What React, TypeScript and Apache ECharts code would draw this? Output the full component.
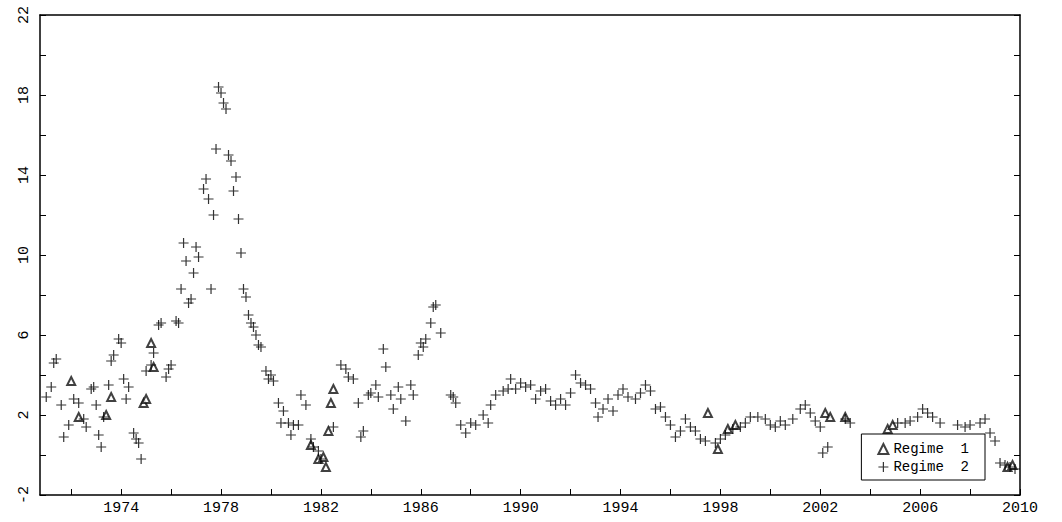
import { useEffect, useRef } from 'react';
import * as echarts from 'echarts';

const regime1: [number, number][] = [
  [1972.0, 3.7], [1972.3, 1.9], [1973.4, 2.0], [1973.6, 2.9], [1974.9, 2.6], [1975.0, 2.8],
  [1975.2, 5.6], [1975.3, 4.4], [1981.6, 0.5], [1981.9, -0.2], [1982.1, -0.1], [1982.2, -0.6],
  [1982.3, 1.2], [1982.4, 2.6], [1982.5, 3.3], [1997.5, 2.1], [1997.9, 0.3], [1998.3, 1.3],
  [1998.6, 1.5], [2002.2, 2.1], [2002.4, 1.9], [2003.0, 1.9], [2004.7, 1.3], [2004.9, 1.5],
  [2009.5, -0.6], [2009.7, -0.5],
];

const regime2: [number, number][] = [
  [1971.0, 2.9], [1971.2, 3.4], [1971.3, 4.6], [1971.4, 4.8], [1971.6, 2.5], [1971.7, 0.9],
  [1971.9, 1.5], [1972.1, 2.8], [1972.3, 2.6], [1972.5, 1.8], [1972.6, 1.4], [1972.8, 3.3],
  [1972.9, 3.4], [1973.0, 2.5], [1973.1, 1.0], [1973.2, 0.4], [1973.3, 1.9], [1973.5, 3.5],
  [1973.6, 4.7], [1973.7, 5.0], [1973.9, 5.8], [1974.0, 5.6], [1974.1, 3.8], [1974.2, 2.8],
  [1974.3, 3.4], [1974.5, 1.1], [1974.6, 0.8], [1974.7, 0.6], [1974.8, -0.2], [1975.0, 4.2],
  [1975.2, 4.5], [1975.3, 5.1], [1975.5, 6.5], [1975.6, 6.6], [1975.8, 3.9], [1975.9, 4.3],
  [1976.0, 4.5], [1976.2, 6.7], [1976.3, 6.6], [1976.4, 8.3], [1976.5, 10.6], [1976.6, 9.7],
  [1976.7, 7.6], [1976.8, 7.8], [1976.9, 9.1], [1977.0, 10.4], [1977.1, 9.9], [1977.3, 13.3],
  [1977.4, 13.8], [1977.5, 12.8], [1977.6, 8.3], [1977.7, 12.0], [1977.8, 15.3], [1977.9, 18.4],
  [1978.0, 18.1], [1978.1, 17.6], [1978.2, 17.3], [1978.3, 15.0], [1978.4, 14.7], [1978.5, 13.2],
  [1978.6, 13.9], [1978.7, 11.8], [1978.8, 10.1], [1978.9, 8.3], [1979.0, 7.9], [1979.1, 7.0],
  [1979.2, 6.6], [1979.3, 6.4], [1979.4, 6.0], [1979.5, 5.5], [1979.6, 5.4], [1979.8, 4.2],
  [1979.9, 3.8], [1980.0, 4.0], [1980.1, 3.7], [1980.3, 2.6], [1980.4, 1.6], [1980.5, 2.2],
  [1980.7, 1.6], [1980.8, 1.0], [1980.9, 1.5], [1981.1, 1.5], [1981.2, 3.0], [1981.4, 2.5],
  [1981.6, 0.8], [1981.7, 0.4], [1981.9, 0.2], [1982.0, -0.2], [1982.5, 1.4], [1982.8, 4.5],
  [1983.0, 4.3], [1983.1, 3.9], [1983.3, 3.8], [1983.5, 2.6], [1983.6, 0.9], [1983.7, 1.2],
  [1983.9, 3.0], [1984.0, 3.1], [1984.2, 3.5], [1984.3, 2.9], [1984.5, 5.3], [1984.6, 4.4],
  [1984.8, 3.0], [1984.9, 2.3], [1985.1, 3.4], [1985.2, 2.8], [1985.4, 1.7], [1985.6, 3.5],
  [1985.7, 3.0], [1985.9, 5.0], [1986.0, 5.6], [1986.1, 5.4], [1986.2, 5.8], [1986.4, 6.6],
  [1986.5, 7.4], [1986.6, 7.5], [1986.8, 6.1], [1987.2, 3.0], [1987.3, 2.9], [1987.4, 2.6],
  [1987.6, 1.5], [1987.8, 1.1], [1988.0, 1.6], [1988.2, 1.5], [1988.5, 2.0], [1988.7, 1.6],
  [1988.8, 2.5], [1989.0, 3.0], [1989.3, 3.2], [1989.5, 3.3], [1989.6, 3.8], [1989.8, 3.3],
  [1990.0, 3.6], [1990.2, 3.4], [1990.4, 3.5], [1990.6, 2.8], [1990.8, 3.2], [1991.0, 3.3],
  [1991.2, 2.7], [1991.4, 2.5], [1991.6, 2.8], [1991.8, 2.5], [1992.0, 3.1], [1992.2, 4.0],
  [1992.4, 3.6], [1992.6, 3.5], [1992.8, 3.3], [1993.0, 2.6], [1993.1, 1.9], [1993.3, 2.3],
  [1993.5, 2.8], [1993.7, 2.2], [1993.9, 3.0], [1994.1, 3.3], [1994.3, 2.9], [1994.6, 2.8],
  [1994.8, 3.1], [1995.0, 3.5], [1995.2, 3.2], [1995.4, 2.3], [1995.6, 2.4], [1995.8, 1.9],
  [1996.0, 1.5], [1996.2, 0.9], [1996.4, 1.2], [1996.6, 1.8], [1996.8, 1.4], [1997.0, 1.2],
  [1997.2, 0.8], [1997.4, 0.7], [1997.8, 0.6], [1998.0, 0.8], [1998.2, 1.0], [1998.5, 1.3],
  [1998.8, 1.4], [1999.0, 1.6], [1999.2, 1.9], [1999.5, 1.9], [1999.8, 1.8], [2000.0, 1.5],
  [2000.2, 1.4], [2000.4, 1.7], [2000.6, 1.5], [2000.9, 1.8], [2001.2, 2.3], [2001.4, 2.5],
  [2001.6, 2.1], [2001.8, 1.7], [2002.0, 1.4], [2002.1, 0.1], [2002.3, 0.4], [2003.0, 1.8],
  [2003.2, 1.6], [2005.1, 1.6], [2005.4, 1.6], [2005.6, 1.7], [2005.9, 1.9], [2006.1, 2.3],
  [2006.3, 2.1], [2006.5, 1.9], [2006.8, 1.6], [2007.5, 1.5], [2007.8, 1.4], [2008.0, 1.5],
  [2008.4, 1.6], [2008.6, 1.8], [2008.8, 1.1], [2009.0, 0.7], [2009.2, -0.4], [2009.4, -0.5],
  [2009.6, -0.6], [2009.8, -0.7],
];

const xLabels = [1974, 1978, 1982, 1986, 1990, 1994, 1998, 2002, 2006, 2010];
const xTicks = [1972, 1974, 1976, 1978, 1980, 1982, 1984, 1986, 1988, 1990, 1992, 1994, 1996, 1998, 2000, 2002, 2004, 2006, 2008, 2010];

const plus = 'path://M4.4,0H5.6V4.4H10V5.6H5.6V10H4.4V5.6H0V4.4H4.4Z';
const font = "'Liberation Mono', monospace";

export default function App() {
  const ref = useRef<HTMLDivElement>(null);

  useEffect(() => {
    if (!ref.current) return;
    const chart = echarts.init(ref.current, undefined, { renderer: 'svg' });
    const yAxisBase = {
      type: 'value' as const,
      min: -2,
      max: 22,
      interval: 4,
      splitLine: { show: false },
      axisLine: { show: true, lineStyle: { color: '#000', width: 1.5 } },
      axisTick: { inside: true, length: 6, lineStyle: { color: '#000' } },
      minorTick: { show: true, splitNumber: 2, length: 6, lineStyle: { color: '#000' } },
    };
    const xAxisBase = {
      type: 'value' as const,
      min: 1970.75,
      max: 2010,
      splitLine: { show: false },
      axisLine: { onZero: false, lineStyle: { color: '#000', width: 1.5 } },
    };
    chart.setOption({
      animation: false,
      backgroundColor: '#fff',
      grid: { left: 40, right: 42, top: 15, bottom: 27, show: false },
      xAxis: [
        {
          ...xAxisBase,
          axisTick: { inside: true, length: 6, customValues: xTicks, lineStyle: { color: '#000' } },
          axisLabel: {
            customValues: xLabels,
            formatter: (v: number) => String(v),
            color: '#000',
            fontFamily: font,
            fontSize: 15,
            margin: 6,
          },
        },
        {
          ...xAxisBase,
          position: 'top',
          axisTick: { show: false },
          axisLabel: { show: false },
        },
      ],
      yAxis: [
        {
          ...yAxisBase,
          axisLabel: { rotate: 90, color: '#000', fontFamily: font, fontSize: 15, margin: 8 },
        },
        { ...yAxisBase, position: 'right', axisLabel: { show: false } },
      ],
      legend: {
        right: 77,
        bottom: 42,
        orient: 'vertical',
        itemGap: 4,
        itemWidth: 10,
        itemHeight: 10,
        padding: [8, 16, 6, 16],
        borderColor: '#000',
        borderWidth: 1,
        backgroundColor: '#fff',
        textStyle: { color: '#000', fontFamily: font, fontSize: 14 },
        formatter: (n: string) => n.replace(' ', '  '),
        data: [
          { name: 'Regime 1', icon: 'emptyTriangle' },
          { name: 'Regime 2', icon: plus },
        ],
      },
      series: [
        {
          name: 'Regime 1',
          type: 'scatter',
          data: regime1,
          symbol: 'emptyTriangle',
          symbolSize: 8,
          itemStyle: { color: '#111', borderColor: '#111', borderWidth: 1 },
        },
        {
          name: 'Regime 2',
          type: 'scatter',
          data: regime2,
          symbol: plus,
          symbolSize: 10,
          itemStyle: { color: '#000' },
        },
      ],
    });
    return () => chart.dispose();
  }, []);

  return <div ref={ref} style={{ position: 'absolute', left: 0, top: 0, width: 1062, height: 522 }} />;
}
